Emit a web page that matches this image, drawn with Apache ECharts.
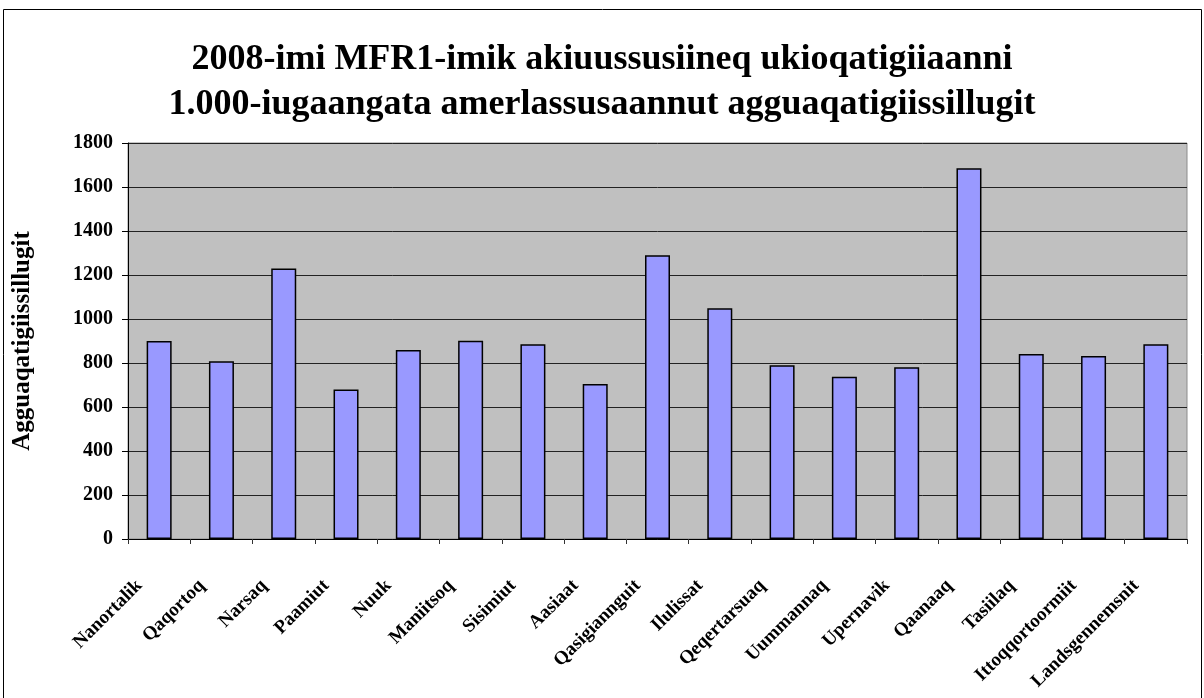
<!DOCTYPE html>
<html>
<head>
<meta charset="utf-8">
<script src="https://cdn.jsdelivr.net/npm/echarts@6/dist/echarts.min.js"></script>
<style>
  html, body { margin: 0; padding: 0; background: #fff; }
  #chart { width: 1204px; height: 698px; }
</style>
</head>
<body>
<div id="chart"></div>
<script>
// towns + national average
var towns = ['Nanortalik', 'Qaqortoq', 'Narsaq', 'Paamiut', 'Nuuk', 'Maniitsoq', 'Sisimiut',
    'Aasiaat', 'Qasigiannguit', 'Ilulissat', 'Qeqertarsuaq', 'Uummannaq', 'Upernavik',
    'Qaanaaq', 'Tasiilaq', 'Ittoqqortoormiit', 'Landsgennemsnit'];
// average per 1000 inhabitants
var values = [900, 808, 1230, 679, 859, 901, 885, 705, 1290, 1049, 790, 738, 781, 1685, 841, 832, 885];
var yTicks = [0, 200, 400, 600, 800, 1000, 1200, 1400, 1600, 1800];

var titleLines = ['2008-imi MFR1-imik akiuussusiineq ukioqatigiiaanni',
    '1.000-iugaangata amerlassusaannut agguaqatigiissillugit'];
var yName = 'Agguaqatigiissillugit';

var serif = '"Liberation Serif", "Times New Roman", serif';

var chart = echarts.init(document.getElementById('chart'));

chart.setOption({
    animation: false,
    backgroundColor: '#fff',
    title: {
        text: titleLines.join('\n'),
        left: 'center',
        top: 32,
        textStyle: {
            fontFamily: serif,
            fontWeight: 'bold',
            fontSize: 36,
            lineHeight: 45,
            color: '#000'
        }
    },
    graphic: [{
        type: 'rect',
        shape: { x: 3.5, y: 9.5, width: 1198, height: 700 },
        style: { fill: 'none', stroke: '#000', lineWidth: 1 },
        silent: true
    }],
    grid: {
        left: 128,
        right: 17,
        top: 143,
        bottom: 159,
        show: true,
        backgroundColor: '#c0c0c0',
        borderColor: '#8c8c8c',
        borderWidth: 1
    },
    xAxis: {
        type: 'category',
        data: towns,
        axisLine: { lineStyle: { color: '#000', width: 1 } },
        axisTick: { show: true, length: 5, lineStyle: { color: '#333' } },
        axisLabel: {
            interval: 0,
            rotate: 45,
            margin: 24,
            padding: [0, 28, 0, 0],
            fontFamily: serif,
            fontWeight: 'bold',
            fontSize: 19,
            color: '#000'
        }
    },
    yAxis: {
        type: 'value',
        min: yTicks[0],
        max: yTicks[yTicks.length - 1],
        interval: 200,
        name: yName,
        nameLocation: 'middle',
        nameRotate: 90,
        nameGap: 93,
        nameTextStyle: {
            fontFamily: serif,
            fontWeight: 'bold',
            fontSize: 25,
            color: '#000'
        },
        axisLine: { show: true, lineStyle: { color: '#000', width: 1 } },
        axisTick: { show: true, length: 6, lineStyle: { color: '#000' } },
        axisLabel: {
            margin: 15,
            fontFamily: serif,
            fontWeight: 'bold',
            fontSize: 20,
            color: '#000',
            formatter: function (v) { return String(v); }
        },
        splitLine: { lineStyle: { color: '#222', width: 1 } }
    },
    series: [{
        type: 'bar',
        data: values,
        barWidth: 25,
        itemStyle: {
            color: '#9999ff',
            borderColor: '#000',
            borderWidth: 1.5
        }
    }]
});
</script>
</body>
</html>
